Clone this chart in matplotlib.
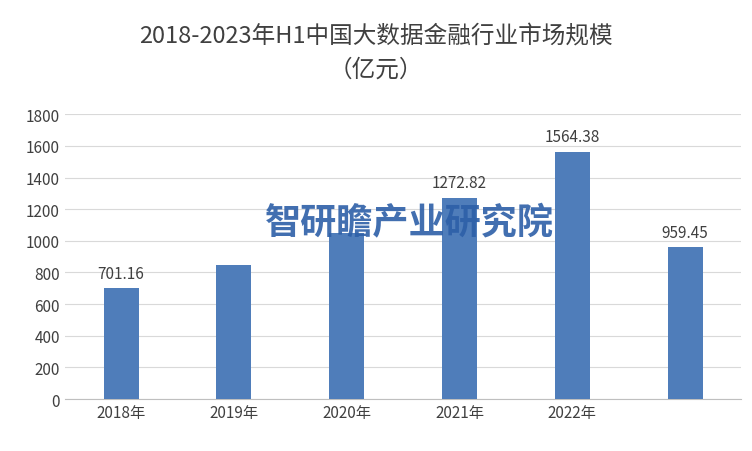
import matplotlib.pyplot as plt

plt.rcParams['font.family'] = ['Noto Sans CJK SC']

years = ['2018年', '2019年', '2020年', '2021年', '2022年', '']
values = [701.16, 850, 1050, 1272.82, 1564.38, 959.45]
labels = ['701.16', '', '', '1272.82', '1564.38', '959.45']

fig = plt.figure(figsize=(7.52, 4.52), dpi=100)
ax = fig.add_axes([0.086, 0.115, 0.90, 0.63])

x = range(len(years))
ax.bar(x, values, width=0.31, color='#4f7dba', zorder=3)
for i, v in enumerate(values):
    if labels[i]:
        ax.text(i, v + 40, labels[i], ha='center', va='bottom', fontsize=11, color='#404040')

ax.set_ylim(0, 1800)
ax.set_yticks(range(0, 1801, 200))
ax.set_xlim(-0.5, len(years) - 0.5)
ax.set_xticks(list(x))
ax.set_xticklabels(years)
ax.tick_params(axis='both', length=0, labelsize=11, colors='#404040')
ax.grid(axis='y', color='#d9d9d9', linewidth=0.8, zorder=0)
for s in ['top', 'right', 'left']:
    ax.spines[s].set_visible(False)
ax.spines['bottom'].set_color('#bfbfbf')

fig.text(0.5, 0.92, '2018-2023年H1中国大数据金融行业市场规模', ha='center', va='center', fontsize=17, color='#404040')
fig.text(0.5, 0.845, '（亿元）', ha='center', va='center', fontsize=17, color='#404040')

# watermark
fig.text(0.352, 0.505, '智研瞻产业研究院', ha='left', va='center', fontsize=26,
         fontweight='bold', color='#2d5fa8', alpha=0.9)

fig.savefig('out.png', dpi=100)
